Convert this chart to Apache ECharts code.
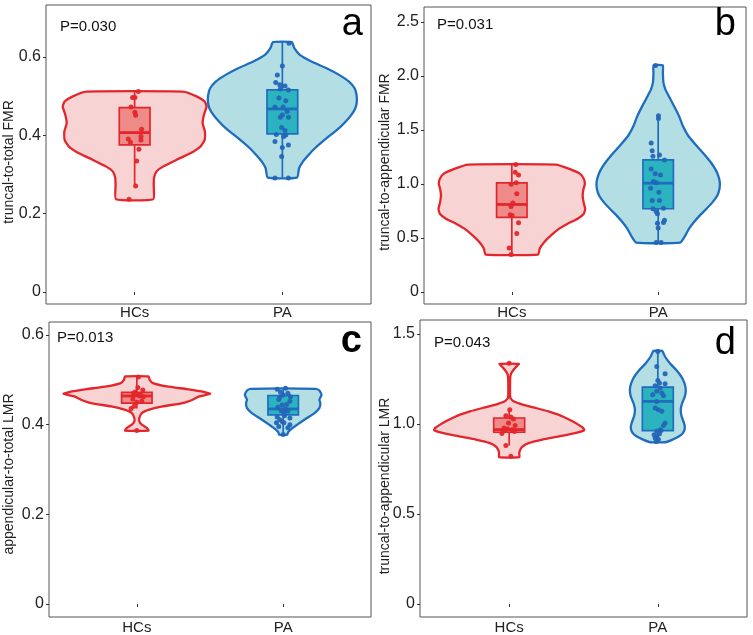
<!DOCTYPE html>
<html><head><meta charset="utf-8">
<script src="https://cdn.jsdelivr.net/npm/echarts@6/dist/echarts.min.js"></script>
<style>html,body{margin:0;padding:0;background:#fff}#c{width:753px;height:635px}</style>
</head><body><div id="c"></div>
<script>
// ---------- data ----------
const groups = ['HCs', 'PA'];
const pLabels = ['P=0.030', 'P=0.031', 'P=0.013', 'P=0.043'];
const panelLetters = ['a', 'b', 'c', 'd'];
const yTitles = ['truncal-to-total FMR', 'truncal-to-appendicular FMR', 'appendicular-to-total LMR', 'truncal-to-appendicular LMR'];

// panel a
const aTicks = [0, 0.2, 0.4, 0.6];
const aTickLabels = ['0', '0.2', '0.4', '0.6'];
// violin profiles: [value, half-width (scaled density)]
const aViolinHCs = [[0.5116,0.327],[0.4989,0.422],[0.4862,0.474],[0.4734,0.487],[0.4521,0.469],[0.4308,0.460],[0.4095,0.476],[0.3883,0.474],[0.3712,0.445],[0.3542,0.377],[0.3372,0.282],[0.3201,0.192],[0.3074,0.147],[0.2903,0.131],[0.2733,0.129],[0.2367,0.126]];
const aViolinPA = [[0.6377,0.064],[0.6224,0.081],[0.6054,0.118],[0.5883,0.197],[0.5713,0.299],[0.5543,0.384],[0.5373,0.451],[0.5202,0.489],[0.5032,0.502],[0.4862,0.504],[0.4691,0.494],[0.4521,0.467],[0.4351,0.429],[0.4181,0.384],[0.4010,0.327],[0.3840,0.271],[0.3670,0.220],[0.3499,0.177],[0.3329,0.139],[0.3159,0.113],[0.2920,0.099]];
// box: [lower whisker, Q1, median, Q3, upper whisker]
const aBoxHCs = [0.2708, 0.3755, 0.407, 0.4708, 0.5116];
const aBoxPA = [0.292, 0.4036, 0.4674, 0.516, 0.6377];
// points: [jitter, value]
const aPointsHCs = [[0.025,0.5116],[-0.014,0.4964],[0.002,0.4964],[-0.025,0.4725],[0.002,0.4589],[0.007,0.4513],[0.047,0.4155],[0.043,0.3968],[0.043,0.3883],[-0.043,0.3908],[-0.029,0.3823],[0.029,0.3644],[0.014,0.3346],[0.007,0.2708],[-0.038,0.2367]];
const aPointsPA = [[0.045,0.635],[0,0.577],[-0.034,0.554],[-0.045,0.535],[-0.018,0.529],[0.018,0.526],[0.041,0.516],[-0.014,0.518],[-0.023,0.495],[0.023,0.488],[-0.05,0.472],[0.005,0.472],[0.032,0.461],[0,0.452],[-0.014,0.446],[0.041,0.446],[-0.005,0.420],[0.018,0.412],[-0.041,0.402],[0.023,0.401],[0.009,0.397],[-0.05,0.384],[0.041,0.375],[0,0.369],[-0.005,0.346],[-0.05,0.291],[0.041,0.291]];

// panel b
const bTicks = [0, 0.5, 1.0, 1.5, 2.0, 2.5];
const bTickLabels = ['0', '0.5', '1.0', '1.5', '2.0', '2.5'];
const bViolinHCs = [[1.1786,0.299],[1.1388,0.393],[1.0927,0.467],[1.0467,0.492],[1.0006,0.499],[0.9546,0.490],[0.8932,0.484],[0.8318,0.490],[0.7704,0.501],[0.7244,0.492],[0.6783,0.450],[0.6323,0.381],[0.5862,0.324],[0.5249,0.268],[0.4635,0.222],[0.4021,0.191],[0.3468,0.179]];
const bViolinPA = [[2.0964,0.032],[2.0289,0.032],[1.9368,0.036],[1.8754,0.049],[1.8140,0.072],[1.7219,0.108],[1.6298,0.142],[1.5378,0.168],[1.4457,0.205],[1.3536,0.262],[1.2615,0.323],[1.2001,0.359],[1.1387,0.389],[1.0773,0.410],[1.0160,0.421],[0.9546,0.419],[0.8932,0.404],[0.8318,0.372],[0.7704,0.330],[0.7090,0.285],[0.6476,0.245],[0.5862,0.211],[0.5249,0.186],[0.4573,0.150]];
const bBoxHCs = [0.3468, 0.6906, 0.810, 1.0098, 1.1786];
const bBoxPA = [0.4573, 0.7704, 1.0067, 1.2216, 1.6298];
const bPointsHCs = [[0.027,1.1786],[0.023,1.108],[0.046,1.0835],[0.030,1.0098],[-0.005,0.9975],[0.034,0.9085],[0.007,0.8226],[-0.005,0.7919],[-0.011,0.7152],[0.002,0.709],[0.046,0.6415],[0.034,0.5402],[-0.018,0.4082],[-0.005,0.3468]];
const bPointsPA = [[-0.018,2.096],[0.002,1.630],[0.002,1.605],[-0.048,1.378],[-0.041,1.308],[-0.036,1.255],[0.009,1.268],[0.043,1.222],[-0.048,1.139],[-0.020,1.093],[0.016,1.083],[-0.032,1.022],[-0.014,1.010],[-0.052,0.961],[0.005,0.924],[-0.041,0.847],[0.009,0.847],[-0.036,0.770],[0.036,0.776],[-0.014,0.746],[-0.005,0.725],[0.043,0.663],[0.036,0.642],[-0.005,0.636],[0,0.592],[-0.014,0.457],[0.020,0.457]];

// panel c
const cTicks = [0, 0.2, 0.4, 0.6];
const cTickLabels = ['0', '0.2', '0.4', '0.6'];
const cViolinHCs = [[0.5074,0.080],[0.5,0.088],[0.4926,0.110],[0.4852,0.205],[0.4793,0.342],[0.4741,0.444],[0.4689,0.501],[0.4630,0.427],[0.4556,0.381],[0.4481,0.313],[0.4407,0.176],[0.4333,0.085],[0.4259,0.034],[0.4148,0.017],[0.4074,0.017],[0.4,0.034],[0.3926,0.068],[0.3867,0.080]];
const cViolinPA = [[0.48,0.222],[0.4763,0.247],[0.4667,0.262],[0.4556,0.247],[0.4481,0.254],[0.4370,0.247],[0.4259,0.214],[0.4148,0.163],[0.4037,0.112],[0.3926,0.065],[0.3830,0.033],[0.3778,0.028]];
const cBoxHCs = [0.436, 0.448, 0.464, 0.472, 0.507];
const cBoxPA = [0.378, 0.422, 0.435, 0.465, 0.48];
const cPointsHCs = [[0.011,0.506],[0.007,0.483],[0.041,0.477],[-0.011,0.473],[0.023,0.464],[-0.027,0.457],[0,0.450],[0.034,0.452],[-0.018,0.441],[-0.039,0.436],[0,0.387],[0.045,0.462],[0.011,0.466],[-0.023,0.470],[0.023,0.468]];
const cPointsPA = [[-0.041,0.479],[0.016,0.481],[-0.018,0.472],[0.032,0.470],[0,0.466],[0.05,0.462],[-0.030,0.456],[0.046,0.452],[-0.007,0.444],[-0.036,0.439],[0.016,0.435],[-0.014,0.431],[0.032,0.430],[0.005,0.426],[-0.041,0.417],[-0.023,0.411],[0.046,0.415],[-0.007,0.407],[-0.046,0.404],[0.005,0.404],[0.046,0.400],[-0.030,0.396],[0.032,0.393],[0,0.378],[0.023,0.445],[-0.023,0.461],[0.009,0.420]];

// panel d
const dTicks = [0, 0.5, 1.0, 1.5];
const dTickLabels = ['0', '0.5', '1.0', '1.5'];
const dViolinHCs = [[1.3337,0.065],[1.3189,0.049],[1.3005,0.030],[1.2821,0.015],[1.2636,0.008],[1.2267,0.006],[1.1714,0.006],[1.1437,0.008],[1.1253,0.030],[1.1068,0.090],[1.0884,0.179],[1.0699,0.264],[1.0515,0.331],[1.0330,0.381],[1.0146,0.426],[0.9961,0.465],[0.9777,0.497],[0.9648,0.505],[0.9500,0.449],[0.9316,0.342],[0.9131,0.224],[0.8947,0.135],[0.8762,0.092],[0.8578,0.075],[0.8393,0.068],[0.8153,0.068]];
const dViolinPA = [[1.4057,0.029],[1.3743,0.048],[1.3374,0.081],[1.3005,0.123],[1.2636,0.157],[1.2267,0.179],[1.1898,0.188],[1.1529,0.182],[1.1160,0.164],[1.0791,0.154],[1.0422,0.160],[1.0054,0.176],[0.9777,0.182],[0.9500,0.170],[0.9316,0.144],[0.9131,0.099],[0.8983,0.050]];
const dBoxHCs = [0.880, 0.9537, 0.9685, 1.033, 1.0791];
const dBoxPA = [0.898, 0.9629, 1.1253, 1.2046, 1.4057];
const dPointsHCs = [[0,1.3374],[0.004,1.0791],[-0.022,1.046],[0.011,1.0387],[0.029,1.0275],[-0.004,1.0054],[0.040,0.9906],[-0.034,0.978],[-0.049,0.9463],[-0.022,0.8799],[0.011,0.8209],[0.02,0.968],[-0.03,0.962],[0.035,0.958],[-0.01,0.972]];
const dPointsPA = [[0,1.402],[-0.007,1.319],[0.049,1.278],[0,1.241],[0.011,1.227],[0.049,1.223],[-0.018,1.212],[0.016,1.199],[-0.007,1.181],[0.027,1.171],[-0.034,1.162],[0.038,1.157],[-0.007,1.125],[-0.018,1.088],[0.004,1.079],[0.027,1.070],[0.049,1.005],[0.038,0.991],[0.016,0.968],[-0.007,0.959],[0.022,0.964],[-0.025,0.940],[0.011,0.945],[-0.007,0.931],[-0.018,0.922],[0.004,0.913],[-0.011,0.902]];

// ---------- layout / style ----------
const FONT = '"Liberation Sans", Arial, Helvetica, sans-serif';
const colors = [
  { line: '#E3262B', violin: '#F8D3D4', box: '#EE8A88', point: '#E3262B' },
  { line: '#1F6DBE', violin: '#B3DEE3', box: '#2CB3C0', point: '#2466B8' }
];
const BOX_HALF = 0.104;

const panels = [
  { grid: { left: 46, right: 382, top: 5, bottom: 331 }, yMin: -0.0306, yMax: 0.7327, ticks: aTicks, tickLabels: aTickLabels,
    violins: [aViolinHCs, aViolinPA], boxes: [aBoxHCs, aBoxPA], points: [aPointsHCs, aPointsPA], xMargin: 1,
    pPos: [60, 27], letterPos: [363, 25], titlePos: [9, 162] },
  { grid: { left: 424, right: 7, top: 7, bottom: 331 }, yMin: -0.111, yMax: 2.637, ticks: bTicks, tickLabels: bTickLabels,
    violins: [bViolinHCs, bViolinPA], boxes: [bBoxHCs, bBoxPA], points: [bPointsHCs, bPointsPA], xMargin: 1,
    pPos: [437, 25], letterPos: [736, 25], titlePos: [385, 162] },
  { grid: { left: 49, right: 382, top: 322, bottom: 17 }, yMin: -0.0289, yMax: 0.6289, ticks: cTicks, tickLabels: cTickLabels,
    violins: [cViolinHCs, cViolinPA], boxes: [cBoxHCs, cBoxPA], points: [cPointsHCs, cPointsPA], xMargin: 3,
    pPos: [57, 338], letterPos: [362, 342], titlePos: [9, 474], letterBold: true },
  { grid: { left: 420, right: 6, top: 320, bottom: 17 }, yMin: -0.072, yMax: 1.577, ticks: dTicks, tickLabels: dTickLabels,
    violins: [dViolinHCs, dViolinPA], boxes: [dBoxHCs, dBoxPA], points: [dPointsHCs, dPointsPA], xMargin: 3,
    pPos: [434, 343], letterPos: [736, 344], titlePos: [385, 486] }
];

const grids = [], xAxes = [], yAxes = [], series = [], graphics = [];
panels.forEach((P, i) => {
  grids.push(Object.assign({ show: true, borderColor: '#555', borderWidth: 1, backgroundColor: 'transparent' }, P.grid));
  xAxes.push({
    gridIndex: i, type: 'value', min: 0.4, max: 2.6,
    axisLine: { show: false }, splitLine: { show: false },
    axisTick: { show: true, customValues: [1, 2], length: 3, lineStyle: { color: '#333' } },
    axisLabel: { customValues: [1, 2], formatter: v => groups[Math.round(v) - 1], fontSize: 15, color: '#222', fontFamily: FONT, margin: P.xMargin }
  });
  yAxes.push({
    gridIndex: i, type: 'value', min: P.yMin, max: P.yMax,
    axisLine: { show: false }, splitLine: { show: false },
    axisTick: { show: true, customValues: P.ticks, length: 3, lineStyle: { color: '#333' } },
    axisLabel: {
      customValues: P.ticks, fontSize: 16, color: '#222', fontFamily: FONT, margin: 5,
      formatter: v => { const k = P.ticks.findIndex(t => Math.abs(t - v) < 1e-9); return k >= 0 ? P.tickLabels[k] : ''; }
    }
  });
  // violins
  series.push({
    type: 'custom', xAxisIndex: i, yAxisIndex: i, data: [[1, 0], [2, 1]], encode: { x: 0 }, silent: true, z: 1,
    renderItem: (params, api) => {
      const g = api.value(1), x = api.value(0), prof = P.violins[g];
      const left = prof.map(([v, w]) => api.coord([x - w, v]));
      const right = prof.slice().reverse().map(([v, w]) => api.coord([x + w, v]));
      return { type: 'polygon', shape: { points: left.concat(right), smooth: 0.15 },
        style: { fill: colors[g].violin, stroke: colors[g].line, lineWidth: 2.3, lineJoin: 'round' } };
    }
  });
  // boxes
  series.push({
    type: 'custom', xAxisIndex: i, yAxisIndex: i, data: [[1, 0], [2, 1]], encode: { x: 0 }, silent: true, z: 2,
    renderItem: (params, api) => {
      const g = api.value(1), x = api.value(0), b = P.boxes[g];
      const c = colors[g];
      const pMin = api.coord([x, b[0]]), pQ1 = api.coord([x, b[1]]), pQ3 = api.coord([x, b[3]]), pMax = api.coord([x, b[4]]);
      const tl = api.coord([x - BOX_HALF, b[3]]), br = api.coord([x + BOX_HALF, b[1]]);
      const m1 = api.coord([x - BOX_HALF, b[2]]), m2 = api.coord([x + BOX_HALF, b[2]]);
      return { type: 'group', children: [
        { type: 'line', shape: { x1: pQ3[0], y1: pQ3[1], x2: pMax[0], y2: pMax[1] }, style: { stroke: c.line, lineWidth: 1.7 } },
        { type: 'line', shape: { x1: pQ1[0], y1: pQ1[1], x2: pMin[0], y2: pMin[1] }, style: { stroke: c.line, lineWidth: 1.7 } },
        { type: 'rect', shape: { x: tl[0], y: tl[1], width: br[0] - tl[0], height: br[1] - tl[1] }, style: { fill: c.box, stroke: c.line, lineWidth: 1.7 } },
        { type: 'line', shape: { x1: m1[0], y1: m1[1], x2: m2[0], y2: m2[1] }, style: { stroke: c.line, lineWidth: 2.8 } }
      ] };
    }
  });
  // points
  P.points.forEach((pts, g) => {
    series.push({
      type: 'scatter', xAxisIndex: i, yAxisIndex: i, z: 3, silent: true,
      symbol: 'circle', symbolSize: 5,
      itemStyle: { color: colors[g].point, opacity: 0.95 },
      data: pts.map(([j, v]) => [g + 1 + j, v])
    });
  });
  graphics.push({ type: 'text', x: P.pPos[0], y: P.pPos[1], style: { text: pLabels[i], font: '15px ' + FONT, fill: '#111', textAlign: 'left', textVerticalAlign: 'middle' } });
  graphics.push({ type: 'text', x: P.letterPos[0], y: P.letterPos[1], style: { text: panelLetters[i], font: (P.letterBold ? 'bold ' : '') + '38px ' + FONT, fill: '#000', textAlign: 'right', textVerticalAlign: 'middle' } });
  graphics.push({ type: 'text', x: P.titlePos[0], y: P.titlePos[1], rotation: Math.PI / 2, style: { text: yTitles[i], font: '14px ' + FONT, fill: '#222', textAlign: 'center', textVerticalAlign: 'middle' } });
});

const chart = echarts.init(document.getElementById('c'), null, { renderer: 'canvas' });
chart.setOption({
  animation: false,
  backgroundColor: '#fff',
  grid: grids, xAxis: xAxes, yAxis: yAxes, series: series,
  graphic: { elements: graphics }
});
</script>
</body></html>
